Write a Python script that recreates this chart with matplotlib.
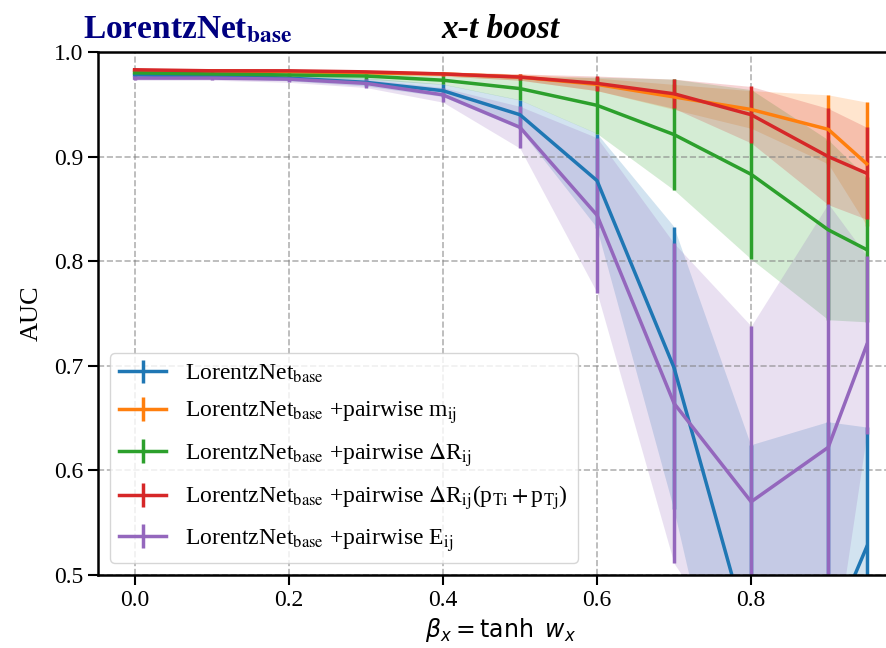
import matplotlib
matplotlib.use("Agg")
import matplotlib.pyplot as plt
import numpy as np

plt.rcParams['font.family'] = ['Liberation Serif', 'DejaVu Serif']
plt.rcParams['mathtext.fontset'] = 'stix'
plt.rcParams['font.size'] = 17

beta = [0.0, 0.1, 0.2, 0.3, 0.4, 0.5, 0.6, 0.7, 0.8, 0.9, 0.95]

base_mean = [0.978, 0.977, 0.975, 0.971, 0.963, 0.940, 0.877, 0.698, 0.434, 0.440, 0.527]
base_std = [0.002, 0.002, 0.003, 0.004, 0.006, 0.014, 0.045, 0.135, 0.190, 0.206, 0.114]

mij_mean = [0.982, 0.982, 0.981, 0.980, 0.979, 0.976, 0.969, 0.957, 0.945, 0.926, 0.893]
mij_std = [0.001, 0.001, 0.001, 0.002, 0.002, 0.003, 0.006, 0.012, 0.018, 0.033, 0.059]

dr_mean = [0.980, 0.979, 0.978, 0.977, 0.973, 0.965, 0.949, 0.921, 0.883, 0.830, 0.811]
dr_std = [0.001, 0.002, 0.002, 0.003, 0.004, 0.011, 0.027, 0.053, 0.081, 0.086, 0.069]

drpt_mean = [0.983, 0.982, 0.982, 0.981, 0.979, 0.976, 0.970, 0.960, 0.940, 0.900, 0.884]
drpt_std = [0.001, 0.001, 0.001, 0.001, 0.002, 0.003, 0.007, 0.014, 0.027, 0.046, 0.044]

eij_mean = [0.975, 0.975, 0.974, 0.970, 0.959, 0.928, 0.844, 0.664, 0.570, 0.622, 0.720]
eij_std = [0.002, 0.002, 0.003, 0.004, 0.007, 0.020, 0.074, 0.153, 0.168, 0.233, 0.085]

labels = [
    r'LorentzNet$_{\rm base}$',
    r'LorentzNet$_{\rm base}$ +pairwise m$_{\rm ij}$',
    r'LorentzNet$_{\rm base}$ +pairwise $\Delta$R$_{\rm ij}$',
    r'LorentzNet$_{\rm base}$ +pairwise $\Delta$R$_{\rm ij}$(p$_{\rm Ti}+$p$_{\rm Tj}$)',
    r'LorentzNet$_{\rm base}$ +pairwise E$_{\rm ij}$',
]
means = [base_mean, mij_mean, dr_mean, drpt_mean, eij_mean]
stds = [base_std, mij_std, dr_std, drpt_std, eij_std]
colors = ['tab:blue', 'tab:orange', 'tab:green', 'tab:red', 'tab:purple']

fig = plt.figure(figsize=(8.86, 6.48), dpi=100)
ax = fig.add_axes([0.1106, 0.1127, 0.909, 0.8071])

for m, s, c, lab in zip(means, stds, colors, labels):
    m = np.array(m)
    s = np.array(s)
    ax.errorbar(beta, m, yerr=s, color=c, lw=2.5, elinewidth=2.5, label=lab)
    ax.fill_between(beta, m - s, m + s, color=c, alpha=0.2, lw=0)

ax.set_xlim(-0.0475, 0.9975)
ax.set_ylim(0.5, 1.0)
ax.set_xticks([0.0, 0.2, 0.4, 0.6, 0.8])
ax.set_yticks([0.5, 0.6, 0.7, 0.8, 0.9, 1.0])
ax.grid(True, ls='--', lw=1.2, color='gray', alpha=0.6)
for sp in ax.spines.values():
    sp.set_linewidth(1.8)
ax.tick_params(length=7, width=1.5)

ax.set_xlabel(r'$\beta_x = \tanh\ w_x$', math_fontfamily='dejavusans', fontsize=17)
ax.set_ylabel('AUC', fontsize=19, labelpad=8)
ax.set_title(r'LorentzNet$_{\mathbf{base}}$', loc='left', color='navy', fontsize=24,
             fontweight='bold', x=-0.018, pad=4)
ax.set_title('x-t boost', fontsize=24, fontweight='bold', style='italic', pad=10)

ax.legend(loc='lower left', fontsize=17, handlelength=2, handletextpad=0.8,
          labelspacing=0.62)

fig.savefig('out.png', dpi=100)
